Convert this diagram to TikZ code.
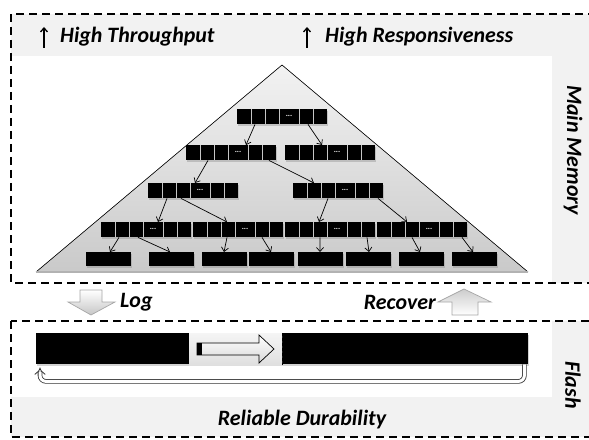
\documentclass[tikz,border=0pt]{standalone}
\usepackage{fontspec}
\setmainfont{Carlito}
\usetikzlibrary{arrows.meta, shadows}
\newcommand{\lbfont}{\fontsize{22}{26}\selectfont\bfseries\itshape}
\newcommand{\keynode}[3]{%
    \node[keybox, anchor=north west] (#1) at (#2,#3) {};
    \foreach \s in {14,28,42,62,76} {
        \draw[gray!45, line width=0.8bp] ([xshift=\s bp]#1.north west) -- ([xshift=\s bp]#1.south west);
    }
    \node[dots] at ([xshift=52bp, yshift=1bp]#1.west) {...};
}

\begin{document}
\begin{tikzpicture}[x=1bp, y=-1bp, every node/.style={inner sep=0pt},
    lbl/.style={font=\lbfont},
    keybox/.style={fill=black, minimum width=90bp, minimum height=15bp,
        drop shadow={shadow xshift=1bp, shadow yshift=-1.5bp, opacity=0.35}},
    leafbox/.style={fill=black, minimum width=45bp, minimum height=14bp,
        drop shadow={shadow xshift=1bp, shadow yshift=-1.5bp, opacity=0.35}},
    dots/.style={text=white, font=\fontsize{8}{8}\selectfont\bfseries},
    link/.style={-{Straight Barb[length=4bp, width=7bp]}, line width=0.7bp},
    boxline/.style={dash pattern=on 8bp off 5bp, line width=1.5bp},
    blockarrow/.style={draw=gray!70, line width=0.7bp}]

    \useasboundingbox (0,0) rectangle (589,440);
    \clip (0,0) rectangle (589,440);

    % main memory part
    \fill[gray!10] (11,14) rectangle (600,283);
    \fill[white] (11,56) rectangle (552,283);
    \fill[top color=gray!10, bottom color=gray!42] (282,65) -- (528,272) -- (36,272) -- cycle;
    \draw[line width=0.6bp] (36,272) -- (282,65) -- (528,272);
    \draw[gray!60, line width=2.2bp] (36,272) -- (528,272);
    \draw[boxline] (11,14) rectangle (600,283);

    % flash part
    \fill[gray!10] (11,321) rectangle (600,437);
    \fill[white] (11,321) rectangle (552,397);
    \draw[boxline] (11,321) rectangle (600,437);

    % tree
    \keynode{rt}{237}{109}
    \keynode{na}{186}{145}
    \keynode{nb}{285}{145}
    \keynode{nc}{148}{183}
    \keynode{ne}{293}{183}
    \keynode{da}{101}{222}
    \keynode{db}{193}{222}
    \keynode{dc}{285}{222}
    \keynode{dd}{377}{222}
    \foreach \x [count=\i] in {86,149,202,249,298,346,399,452} {
        \node[leafbox, anchor=north west] (lf\i) at (\x,252) {};
    }

    \draw[link] ([xshift=18bp]rt.south west) -- ([xshift=60bp]na.north west);
    \draw[link] ([xshift=71bp]rt.south west) -- ([xshift=37bp]nb.north west);
    \draw[link] ([xshift=22bp]na.south west) -- ([xshift=47bp]nc.north west);
    \draw[link] ([xshift=83bp]na.south west) -- ([xshift=21bp]ne.north west);
    \draw[link] ([xshift=19bp]nc.south west) -- ([xshift=57bp]da.north west);
    \draw[link] ([xshift=33bp]nc.south west) -- ([xshift=34bp]db.north west);
    \draw[link] ([xshift=35bp]ne.south west) -- ([xshift=34bp]dc.north west);
    \draw[link] ([xshift=85bp]ne.south west) -- ([xshift=30bp]dd.north west);
    \draw[link] ([xshift=18bp]da.south west) -- ([xshift=24bp]lf1.north west);
    \draw[link] ([xshift=37bp]da.south west) -- ([xshift=21bp]lf2.north west);
    \draw[link] ([xshift=34bp]db.south west) -- ([xshift=22bp]lf3.north west);
    \draw[link] ([xshift=69bp]db.south west) -- ([xshift=22bp]lf4.north west);
    \draw[link] ([xshift=35bp]dc.south west) -- ([xshift=22bp]lf5.north west);
    \draw[link] ([xshift=82bp]dc.south west) -- ([xshift=23bp]lf6.north west);
    \draw[link] ([xshift=35bp]dd.south west) -- ([xshift=21bp]lf7.north west);
    \draw[link] ([xshift=85bp]dd.south west) -- ([xshift=21bp]lf8.north west);

    % labels
    \node[lbl, anchor=west] (tput) at (60,37) {High Throughput};
    \node[lbl, anchor=west] (resp) at (325,37) {High Responsiveness};
    \draw[-{Straight Barb[length=4bp, width=7bp]}, line width=1.3bp]
        ([xshift=-16bp, yshift=-11bp]tput.west) -- ([xshift=-16bp, yshift=10bp]tput.west);
    \draw[-{Straight Barb[length=4bp, width=7bp]}, line width=1.3bp]
        ([xshift=-18bp, yshift=-11bp]resp.west) -- ([xshift=-18bp, yshift=10bp]resp.west);
    \node[lbl, rotate=-90] (mem) at (573,150) {Main Memory};
    \node[lbl, rotate=-90] (flash) at (573,385) {Flash};
    \node[lbl] (dur) at (302,420) {Reliable Durability};

    % log / recover
    \draw[blockarrow, top color=white, bottom color=gray!45]
        (80,290) -- (102,290) -- (102,302) -- (115,302) -- (91,315) -- (68,302) -- (80,302) -- cycle;
    \node[lbl, anchor=west] (log) at (120,302) {Log};
    \draw[blockarrow, top color=gray!40, bottom color=white]
        (464,289) -- (491,302) -- (478,302) -- (478,315) -- (452,315) -- (452,302) -- (438,302) -- cycle;
    \node[lbl, anchor=east] (rec) at (436,302) {Recover};

    % log on flash
    \node[fill=black, anchor=north west, minimum width=492bp, minimum height=31bp,
        drop shadow={shadow xshift=1bp, shadow yshift=-1.5bp, opacity=0.35}] (bar) at (36,333) {};
    \fill[top color=gray!8, bottom color=gray!25] (189,333) rectangle (282,365);
    \draw[densely dashed, line width=0.5bp] (282,333) -- (282,365);
    \draw[line width=0.7bp, top color=white, bottom color=gray!30]
        (197,343) -- (259,343) -- (259,335) -- (274,349) -- (259,363) -- (259,355) -- (197,355) -- cycle;
    \fill (197,343) rectangle (202,355);
    \draw[double=white, double distance=3bp, line width=0.8bp, draw=gray!40!black,
        rounded corners=6bp, -Implies]
        ([xshift=-4bp]bar.south east) -- ++(0,17) -| ([xshift=4bp, yshift=-3bp]bar.south west);
\end{tikzpicture}
\end{document}
